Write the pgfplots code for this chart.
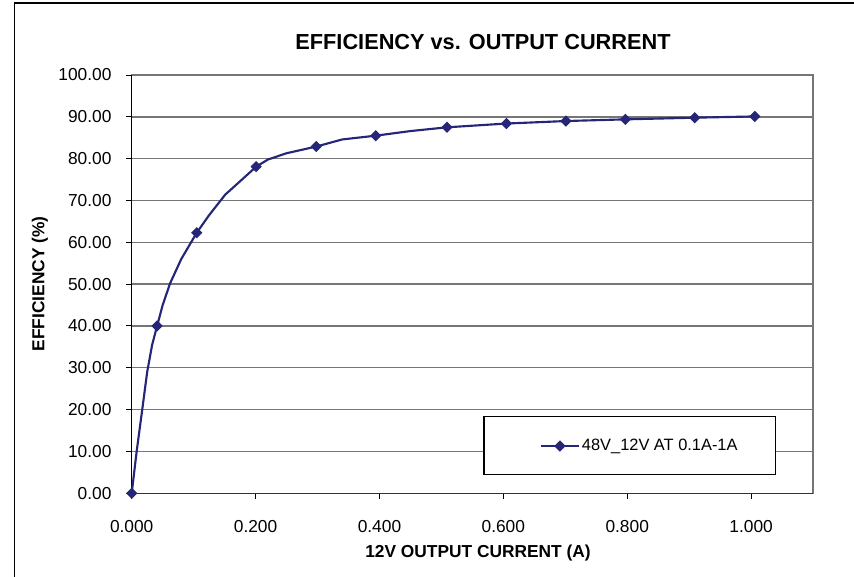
\documentclass[border=0pt]{standalone}
\usepackage{fontspec}
\setmainfont{Liberation Sans}
\usepackage{pgfplots}
\pgfplotsset{compat=1.18}
\definecolor{navy}{RGB}{38,38,120}
\definecolor{gridgray}{RGB}{118,118,118}
\begin{document}
\begin{tikzpicture}[x=0.75pt,y=0.75pt]
\useasboundingbox (0,0) rectangle (854,577);
\draw[black, line width=0.9pt] (14.3,-10) -- (14.3,574) -- (870,574);
\node[font=\bfseries\fontsize{16.3}{19}\selectfont, anchor=base] at (483,527.7) {EFFICIENCY vs. OUTPUT CURRENT};
\node[font=\bfseries\fontsize{13}{15}\selectfont, anchor=base] at (478,19.3) {12V OUTPUT CURRENT (A)};
\node[font=\bfseries\fontsize{13}{15}\selectfont, rotate=90, anchor=base] at (44.5,293) {EFFICIENCY (\%)};
\begin{axis}[
  at={(98.775pt,62.775pt)}, anchor=south west,
  scale only axis, width=511pt, height=313.7pt,
  xmin=0, xmax=1.1, ymin=0, ymax=100,
  xtick={0,0.2,0.4,0.6,0.8,1.0},
  ytick={0,10,20,30,40,50,60,70,80,90,100},
  /pgf/number format/assume math mode=true,
  xticklabel style={anchor=north, inner sep=0pt, yshift=-15.8pt, font=\fontsize{13}{15}\selectfont,
    /pgf/number format/.cd, fixed, fixed zerofill, precision=3},
  yticklabel style={anchor=east, inner sep=0pt, xshift=-10.8pt, font=\fontsize{13}{15}\selectfont,
    /pgf/number format/.cd, fixed, fixed zerofill, precision=2},
  tick align=outside, xtick pos=bottom, ytick pos=left,
  major tick length=4.2pt,
  tick style={black, line width=0.75pt},
  ymajorgrids,
  major grid style={gridgray, line width=1pt},
  axis line style={gridgray, line width=1pt},
  clip=false,
  legend style={at={(rel axis cs:0.7456,0.113)}, anchor=center, draw=none, fill=none,
    font=\fontsize{12.3}{14}\selectfont, inner sep=0pt,
    nodes={inner xsep=1.5pt}},
  legend image code/.code={\draw[#1, mark indices={2}] plot coordinates {(0pt,0pt) (14.25pt,0pt) (28.5pt,0pt)};},
]
\draw[black, line width=0.9pt, fill=white] (rel axis cs:0.517,0.0445) rectangle (rel axis cs:0.945,0.183);
\draw[black, line width=0.9pt] (rel axis cs:0,1) -- (rel axis cs:0,0);
\draw[black!80, line width=1.1pt] (rel axis cs:0,0) -- (rel axis cs:1,0);
\addplot[navy, line width=1.6pt, mark=square*, mark size=2.2pt,
  mark options={rotate=45, solid, fill=navy},
  mark indices={1,6,10,14,17,19,21,22,23,24,25,26}]
  coordinates {
  (0,0) (0.008,10) (0.017,20) (0.025,29) (0.033,35.5) (0.041,40)
  (0.05,45) (0.062,50.2) (0.08,56) (0.105,62.3)
  (0.125,66.5) (0.151,71.4) (0.178,75) (0.201,78.1)
  (0.22,79.8) (0.25,81.3) (0.298,82.9)
  (0.34,84.6) (0.394,85.5) (0.45,86.6) (0.509,87.5)
  (0.605,88.4) (0.701,89.0) (0.797,89.4) (0.909,89.8) (1.006,90.1)
  };
\addlegendentry{48V\_12V AT 0.1A-1A}
\end{axis}
\end{tikzpicture}
\end{document}
